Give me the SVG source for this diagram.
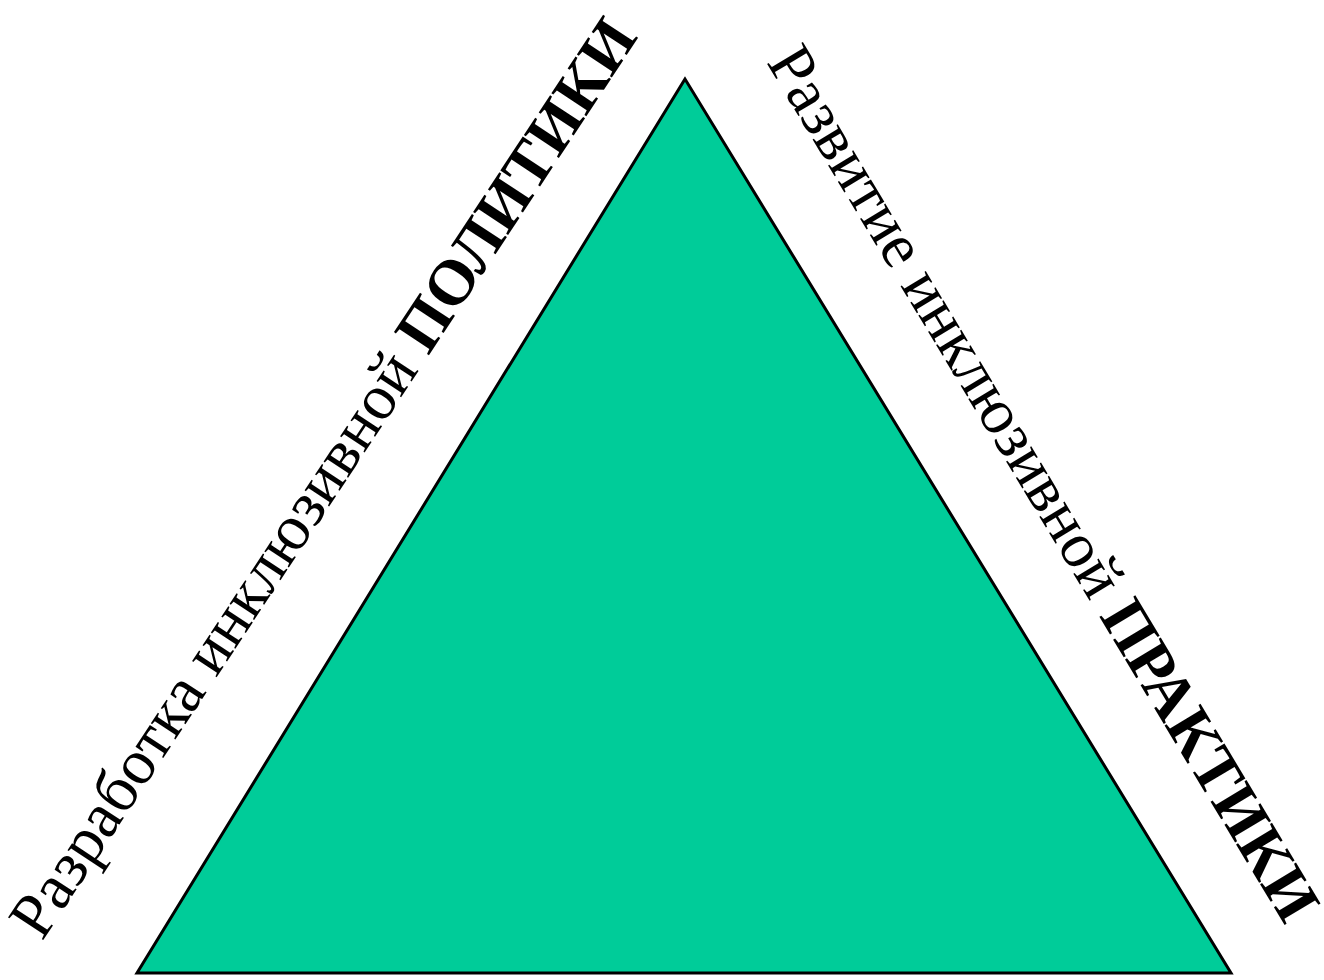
<svg xmlns="http://www.w3.org/2000/svg" width="1324" height="980" viewBox="0 0 1324 980">
<style>
.lbl{font-family:'Liberation Serif',serif;font-size:64px;fill:#000}
.b{font-weight:bold}
</style>
<rect width="1324" height="980" fill="#fff"/>
<g id="triangle">
<polygon points="685,79 137,973 1231,973" fill="#00CC99" stroke="#000" stroke-width="3" stroke-linejoin="miter"/>
</g>
<g id="label-left">
<text class="lbl" transform="translate(42,942) rotate(-56.6)">Разработка инклюзивной <tspan class="b">ПОЛИТИКИ</tspan></text>
</g>
<g id="label-right">
<text class="lbl" transform="translate(766,62) rotate(59)">Развитие инклюзивной <tspan class="b">ПРАКТИКИ</tspan></text>
</g>
<g id="connectors"></g>
</svg>
